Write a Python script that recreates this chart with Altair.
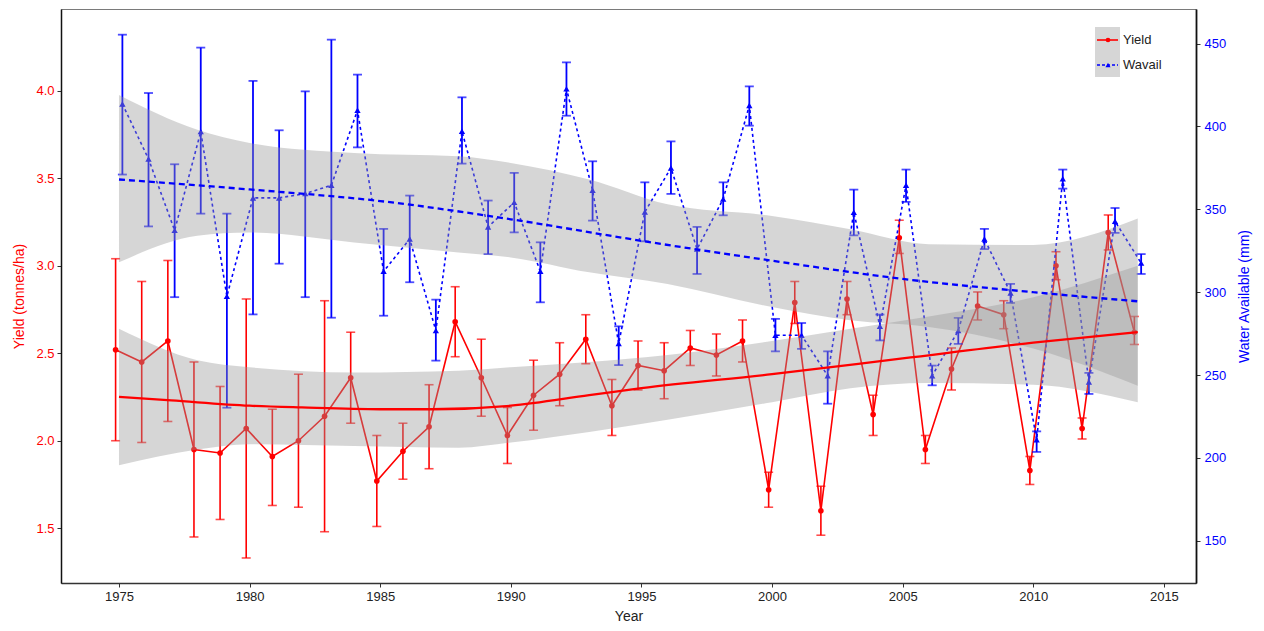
import altair as alt
import pandas as pd

# ---------------- data ----------------
years = list(range(1975, 2015))

yield_mean = [2.52, 2.45, 2.57, 1.95, 1.93, 2.07, 1.91, 2.00, 2.14, 2.36,
              1.77, 1.94, 2.08, 2.68, 2.36, 2.03, 2.26, 2.38, 2.58, 2.20,
              2.43, 2.40, 2.53, 2.49, 2.57, 1.72, 2.79, 1.60, 2.81, 2.15,
              3.16, 1.95, 2.41, 2.77, 2.72, 1.83, 3.00, 2.07, 3.19, 2.62]
yield_low = [2.00, 1.99, 2.11, 1.45, 1.55, 1.33, 1.63, 1.62, 1.48, 2.10,
             1.51, 1.78, 1.84, 2.48, 2.14, 1.87, 2.06, 2.20, 2.44, 2.03,
             2.29, 2.24, 2.43, 2.37, 2.45, 1.62, 2.67, 1.46, 2.72, 2.03,
             3.07, 1.87, 2.29, 2.69, 2.64, 1.75, 2.92, 2.01, 3.09, 2.55]
yield_high = [3.04, 2.91, 3.03, 2.45, 2.31, 2.81, 2.18, 2.38, 2.80, 2.62,
              2.03, 2.10, 2.32, 2.88, 2.58, 2.19, 2.46, 2.56, 2.72, 2.35,
              2.57, 2.56, 2.63, 2.61, 2.69, 1.82, 2.91, 1.74, 2.91, 2.26,
              3.26, 2.03, 2.53, 2.85, 2.80, 1.91, 3.08, 2.13, 3.29, 2.71]

water_mean = [413.6, 380.4, 337.3, 396.9, 297.5, 356.9, 356.9, 359.5, 364.5, 409.8,
              312.6, 332.1, 276.8, 397.1, 339.4, 354.2, 312.6, 422.7, 361.5, 269.0,
              348.4, 375.0, 326.0, 356.3, 412.6, 274.0, 274.0, 249.6, 348.2, 279.4,
              364.5, 249.6, 276.8, 332.1, 299.5, 211.0, 368.5, 245.8, 342.8, 317.6]
water_low = [371.0, 339.7, 297.0, 347.4, 230.3, 286.6, 317.2, 297.0, 284.6, 387.4,
             285.8, 306.0, 258.7, 377.6, 323.0, 336.1, 293.9, 406.5, 343.2, 256.0,
             330.7, 359.3, 311.0, 346.4, 400.5, 264.3, 265.8, 232.7, 334.3, 270.9,
             354.5, 243.8, 268.8, 326.0, 293.5, 203.6, 362.5, 238.6, 335.8, 311.0]
water_high = [455.4, 420.2, 377.2, 447.6, 347.4, 427.5, 397.7, 421.2, 452.4, 431.3,
              338.2, 358.3, 295.5, 417.6, 355.3, 372.0, 330.1, 438.7, 379.0, 279.4,
              366.3, 391.0, 339.4, 366.3, 424.2, 283.9, 281.4, 264.3, 361.9, 286.5,
              374.0, 255.7, 284.5, 338.2, 305.0, 216.0, 374.0, 251.3, 350.8, 323.0]

# fitted trends (loess-like) and their confidence bands
yield_smooth_years = [1975, 1977, 1980, 1982, 1985, 1987, 1990, 1993, 1995, 2000, 2005, 2010, 2014]
yield_smooth = [2.25, 2.23, 2.20, 2.19, 2.18, 2.18, 2.20, 2.26, 2.30, 2.38, 2.47, 2.56, 2.62]

water_smooth_years = [1975, 1980, 1985, 1990, 1995, 2000, 2005, 2010, 2014]
water_smooth = [368.0, 362.0, 355.0, 344.0, 331.0, 319.0, 308.0, 300.0, 294.5]

band_years = [1975, 1978, 1980, 1984, 1988, 1990, 1993, 1996, 2000, 2003, 2006, 2010, 2014]
yield_band_low = [1.86, 1.95, 1.98, 1.97, 1.96, 1.99, 2.05, 2.12, 2.22, 2.30, 2.33, 2.32, 2.22]
yield_band_high = [2.64, 2.46, 2.42, 2.39, 2.40, 2.42, 2.45, 2.49, 2.57, 2.64, 2.71, 2.82, 3.00]
water_band_low = [318.0, 334.0, 336.0, 330.0, 324.0, 321.0, 312.0, 305.0, 291.0, 283.0, 279.0, 266.0, 243.6]
water_band_high = [419.0, 398.0, 390.0, 384.0, 382.0, 378.0, 368.0, 353.0, 346.0, 338.0, 329.0, 328.5, 344.4]

legend_labels = ["Yield", "Wavail"]
x_ticks = list(range(1975, 2016, 5))
yield_ticks = [1.5, 2.0, 2.5, 3.0, 3.5, 4.0]
water_ticks = [150, 200, 250, 300, 350, 400, 450]

# ---------------- tables ----------------
df = pd.DataFrame({
    "Year": years,
    "Yield": yield_mean, "YieldLo": yield_low, "YieldHi": yield_high,
    "Water": water_mean, "WaterLo": water_low, "WaterHi": water_high,
})
ysm = pd.DataFrame({"Year": yield_smooth_years, "Fit": yield_smooth})
wsm = pd.DataFrame({"Year": water_smooth_years, "Fit": water_smooth})
band = pd.DataFrame({"Year": band_years,
                     "YLo": yield_band_low, "YHi": yield_band_high,
                     "WLo": water_band_low, "WHi": water_band_high})

RED = "#ff0000"
BLUE = "#0000ff"
FONT = "Liberation Sans"

W, H = 1135, 574
PAD_L, PAD_T = 61, 9

x_scale = alt.Scale(domain=[1972.78, 2016.23], nice=False, zero=False)
x_axis = alt.Axis(values=x_ticks, format="d", title="Year", grid=False,
                  labelFontSize=13, titleFontSize=14, titleFontWeight="normal",
                  labelColor="#222222", titleColor="#222222", domainColor="#333333",
                  tickColor="#333333", tickSize=4, labelPadding=3, titlePadding=6,
                  domainWidth=1.3)
y_scale = alt.Scale(domain=[1.187, 4.467], nice=False, zero=False)
w_scale = alt.Scale(domain=[124.5, 470.9], nice=False, zero=False)

left_axis = alt.Axis(values=yield_ticks, format=".1f", title="Yield (tonnes/ha)",
                     orient="left", grid=False, labelFontSize=13, titleFontSize=14,
                     titleFontWeight="normal", labelColor=RED, titleColor=RED,
                     domainColor="#111111", tickColor="#333333", tickSize=4,
                     labelPadding=3, titlePadding=9, domainWidth=1.5)
right_axis = alt.Axis(values=water_ticks, format="d", title="Water Available (mm)",
                      orient="right", grid=False, labelFontSize=13, titleFontSize=14,
                      titleFontWeight="normal", labelColor=BLUE, titleColor=BLUE,
                      titleAngle=270, titleBaseline="top",
                      domainColor="#111111", tickColor="#333333", tickSize=4,
                      labelPadding=4, titlePadding=12, domainWidth=1.8)


def X(field):
    return alt.X(field, type="quantitative", scale=x_scale, axis=x_axis)


def Yy(field, axis=None):
    return alt.Y(field, type="quantitative", scale=y_scale, axis=axis)


def Yw(field, axis=None):
    return alt.Y(field, type="quantitative", scale=w_scale, axis=axis)


base = alt.Chart(df).transform_calculate(xr="datum.Year - 0.13", xb="datum.Year + 0.13")

# ---- yield data (red) ----
r_bar = base.mark_rule(color=RED, strokeWidth=1.6).encode(
    x=X("xr"), y=Yy("YieldLo", left_axis), y2="YieldHi")
r_cap_hi = base.mark_tick(color=RED, orient="horizontal", size=9, thickness=1.6).encode(
    x=X("xr"), y=Yy("YieldHi"))
r_cap_lo = base.mark_tick(color=RED, orient="horizontal", size=9, thickness=1.6).encode(
    x=X("xr"), y=Yy("YieldLo"))
r_line = base.mark_line(color=RED, strokeWidth=1.6).encode(x=X("xr"), y=Yy("Yield"))
r_pts = base.mark_point(color=RED, filled=True, opacity=1, size=32, shape="circle").encode(
    x=X("xr"), y=Yy("Yield"))

# ---- water data (blue) ----
b_bar = base.mark_rule(color=BLUE, strokeWidth=1.8).encode(
    x=X("xb"), y=Yw("WaterLo", right_axis), y2="WaterHi")
b_cap_hi = base.mark_tick(color=BLUE, orient="horizontal", size=9, thickness=1.8).encode(
    x=X("xb"), y=Yw("WaterHi"))
b_cap_lo = base.mark_tick(color=BLUE, orient="horizontal", size=9, thickness=1.8).encode(
    x=X("xb"), y=Yw("WaterLo"))
b_line = base.mark_line(color=BLUE, strokeWidth=1.6, strokeDash=[3, 3]).encode(
    x=X("xb"), y=Yw("Water"))
b_pts = base.mark_point(color=BLUE, filled=True, opacity=1, size=40, shape="triangle-up").encode(
    x=X("xb"), y=Yw("Water"))

# ---- confidence bands ----
r_band = alt.Chart(band).mark_area(color="#999999", opacity=0.4, interpolate="monotone").encode(
    x=X("Year"), y=Yy("YLo"), y2="YHi")
b_band = alt.Chart(band).mark_area(color="#999999", opacity=0.4, interpolate="monotone").encode(
    x=X("Year"), y=Yw("WLo"), y2="WHi")

# ---- fitted lines ----
r_fit = alt.Chart(ysm).mark_line(color=RED, strokeWidth=2.3, interpolate="monotone").encode(
    x=X("Year"), y=Yy("Fit"))
b_fit = alt.Chart(wsm).mark_line(color=BLUE, strokeWidth=2.3, strokeDash=[6, 4],
                                 interpolate="monotone").encode(x=X("Year"), y=Yw("Fit"))

# ---- legend (drawn inside the panel, top right) ----
lx0, lx1 = 1095 - PAD_L, 1120 - PAD_L
ly0, ly1 = 27 - PAD_T, 77 - PAD_T
row1, row2 = 40 - PAD_T, 65 - PAD_T
kx0, kx1, kxc = 1097 - PAD_L, 1118 - PAD_L, 1108 - PAD_L
tx = 1123 - PAD_L

leg_data = pd.DataFrame({"label": legend_labels})
lbase = alt.Chart(leg_data)
leg_bg = lbase.transform_filter("datum.label == 'Yield'").mark_rect(color="#d6d6d6").encode(
    x=alt.value(lx0), x2=alt.value(lx1), y=alt.value(ly0), y2=alt.value(ly1))
leg_r_line = lbase.transform_filter("datum.label == 'Yield'").mark_rule(
    color=RED, strokeWidth=1.6).encode(x=alt.value(kx0), x2=alt.value(kx1), y=alt.value(row1))
leg_r_pt = lbase.transform_filter("datum.label == 'Yield'").mark_point(
    color=RED, filled=True, opacity=1, size=22, shape="circle").encode(
    x=alt.value(kxc), y=alt.value(row1))
leg_b_line = lbase.transform_filter("datum.label == 'Wavail'").mark_rule(
    color=BLUE, strokeWidth=1.6, strokeDash=[3, 2]).encode(
    x=alt.value(kx0), x2=alt.value(kx1), y=alt.value(row2))
leg_b_pt = lbase.transform_filter("datum.label == 'Wavail'").mark_point(
    color=BLUE, filled=True, opacity=1, size=26, shape="triangle-up").encode(
    x=alt.value(kxc), y=alt.value(row2))
leg_t1 = lbase.transform_filter("datum.label == 'Yield'").mark_text(
    align="left", baseline="middle", fontSize=13, font=FONT, color="#222222").encode(
    x=alt.value(tx), y=alt.value(row1), text="label:N")
leg_t2 = lbase.transform_filter("datum.label == 'Wavail'").mark_text(
    align="left", baseline="middle", fontSize=13, font=FONT, color="#222222").encode(
    x=alt.value(tx), y=alt.value(row2), text="label:N")

chart = alt.layer(
    r_bar, r_cap_hi, r_cap_lo, r_line, r_pts,
    b_bar, b_cap_hi, b_cap_lo, b_line, b_pts,
    r_band, b_band, r_fit, b_fit,
    leg_bg, leg_r_line, leg_r_pt, leg_b_line, leg_b_pt, leg_t1, leg_t2,
).resolve_scale(y="independent").properties(
    width=W, height=H,
    autosize=alt.AutoSizeParams(type="none"),
    padding={"left": PAD_L, "top": PAD_T, "right": 1264 - PAD_L - W, "bottom": 631 - PAD_T - H},
).configure(font=FONT).configure_view(stroke="#7a7a7a", strokeWidth=1)

chart.save("out.html", embed_options={"renderer": "svg", "actions": False})
